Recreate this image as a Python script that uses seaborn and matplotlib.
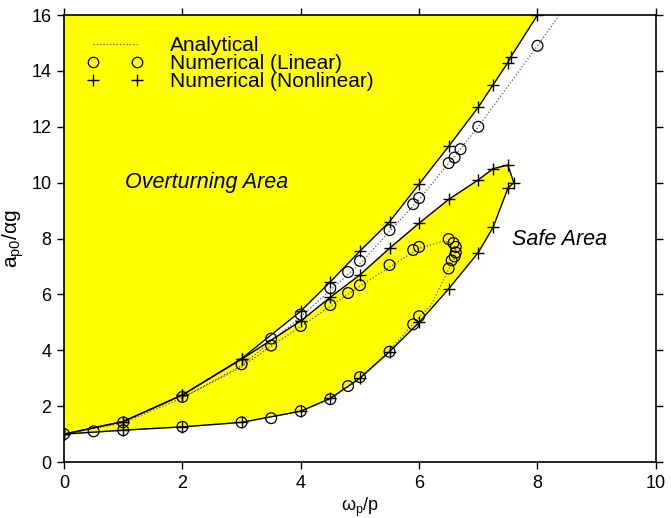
import numpy as np
import pandas as pd
import matplotlib
matplotlib.use('Agg')
import matplotlib.pyplot as plt
import seaborn as sns

# Curva superior (numérico não linear)
nl_up_x = [0, 1, 2, 3, 4, 4.5, 5, 5.5, 6, 6.5, 7, 7.25, 7.5, 7.55, 8]
nl_up_y = [1.0, 1.45, 2.4, 3.7, 5.4, 6.45, 7.55, 8.6, 9.95, 11.3, 12.7, 13.5, 14.3, 14.5, 16.0]

# Laço (numérico não linear): ramo do meio e ramo inferior
nl_loop_x = [0, 1, 2, 3, 4, 4.5, 5, 5.5, 6, 6.5, 7, 7.25, 7.5, 7.6, 7.5, 7.25, 7, 6.5, 6,
             5.5, 5, 4.5, 4, 3, 2, 1, 0]
nl_loop_y = [1.0, 1.45, 2.4, 3.68, 5.05, 5.9, 6.7, 7.65, 8.55, 9.4, 10.1, 10.5, 10.63, 10.0, 9.8,
             8.4, 7.5, 6.2, 5.0, 3.95, 3.0, 2.28, 1.82, 1.42, 1.26, 1.14, 1.0]

# Numérico linear (círculos)
lin_x = [0, 0.5, 1, 2, 3, 3.5, 4, 4.5, 4.8, 5, 5.5, 5.9, 6,
         6.5, 6.55, 6.6, 6.62, 6.62, 6.58, 6.5,
         6, 5.9, 5.5, 5, 4.8, 4.5, 4, 3.5,
         1, 2, 3, 3.5, 4, 4.5, 4.8, 5, 5.5, 5.9, 6, 6.5, 6.6, 6.7, 7, 8]
lin_y = [1.0, 1.1, 1.14, 1.26, 1.42, 1.57, 1.82, 2.25, 2.72, 3.04, 3.95, 4.93, 5.22,
         6.93, 7.22, 7.36, 7.5, 7.7, 7.84, 7.98,
         7.7, 7.59, 7.05, 6.33, 6.05, 5.62, 4.87, 4.17,
         1.42, 2.33, 3.5, 4.42, 5.28, 6.22, 6.8, 7.2, 8.3, 9.23, 9.45, 10.7, 10.9, 11.2, 12.0, 14.9]

# Analítico (linha pontilhada)
an_up_x = [0, 1, 2, 3, 4, 5, 6, 7, 8, 8.37]
an_up_y = [1.0, 1.4, 2.3, 3.45, 5.2, 7.1, 9.4, 12.0, 14.9, 16.0]
an_lo_x = [2, 3, 3.5, 4, 5, 6, 6.4, 6.55, 6.62, 6.6, 6.5, 6.2, 6, 5.5, 5, 4.5, 4, 3, 2, 1, 0]
an_lo_y = [2.3, 3.4, 4.15, 4.85, 6.3, 7.65, 7.9, 7.85, 7.6, 7.3, 6.9, 5.6, 5.2, 4.0, 3.0,
           2.25, 1.82, 1.42, 1.26, 1.14, 1.0]

sns.set_theme(style='ticks')
plt.rcParams['font.family'] = ['Liberation Sans', 'DejaVu Sans']
plt.rcParams['mathtext.fontset'] = 'custom'
plt.rcParams['mathtext.rm'] = 'Liberation Sans'
plt.rcParams['mathtext.it'] = 'Liberation Sans'
plt.rcParams['text.color'] = 'black'
plt.rcParams['axes.labelcolor'] = 'black'
plt.rcParams['xtick.color'] = 'black'
plt.rcParams['ytick.color'] = 'black'

fig = plt.figure(figsize=(6.71, 5.18), dpi=100)
ax = fig.add_axes([0.0954, 0.108, 0.882, 0.863])

yellow = '#ffff00'
# Área de tombamento (à esquerda da curva superior)
ax.fill(nl_up_x + [0], nl_up_y + [16], color=yellow, lw=0, zorder=1)
ax.fill(nl_loop_x, nl_loop_y, color=yellow, lw=0, zorder=1)

df_up = pd.DataFrame({'x': nl_up_x, 'y': nl_up_y})
df_loop = pd.DataFrame({'x': nl_loop_x, 'y': nl_loop_y})
for d in [df_up, df_loop]:
    sns.lineplot(data=d, x='x', y='y', sort=False, estimator=None, ax=ax, color='black',
                 lw=1.0, marker='+', markersize=8, mew=1.0, markeredgecolor='black', zorder=4)

ax.plot(an_up_x, an_up_y, ls=':', color='0.35', lw=0.9, zorder=2)
ax.plot(an_lo_x, an_lo_y, ls=':', color='0.35', lw=0.9, zorder=2)

sns.scatterplot(x=lin_x, y=lin_y, ax=ax, marker='o', s=60, facecolor='none',
                edgecolor='black', linewidth=0.9, zorder=3)

# Legenda
h_an, = ax.plot([], [], ls=':', color='0.35', lw=0.9)
h_lin, = ax.plot([], [], ls='none', marker='o', mfc='none', mec='black', ms=7.5, mew=0.9)
h_nl, = ax.plot([], [], ls='none', marker='+', color='black', ms=8, mew=1.0)
ax.legend([h_an, h_lin, h_nl], ['Analytical', 'Numerical (Linear)', 'Numerical (Nonlinear)'],
          loc='upper left', bbox_to_anchor=(0.013, 0.985), frameon=False, fontsize=15,
          numpoints=2, handlelength=2.75, handletextpad=1.27, labelspacing=-0.05,
          borderaxespad=0.3)

ax.text(1.03, 10.0, 'Overturning Area', fontsize=15.5, style='italic', va='center', ha='left')
ax.text(7.57, 7.95, 'Safe Area', fontsize=15.5, style='italic', va='center', ha='left')

ax.set_xlim(0, 10)
ax.set_ylim(0, 16)
ax.set_xticks(range(0, 11, 2))
ax.set_yticks(range(0, 17, 2))
ax.tick_params(direction='out', length=5, width=1, labelsize=13, color='black',
               labelcolor='black', top=True, right=True, pad=4)
for s in ax.spines.values():
    s.set_visible(True)
    s.set_color('black')
    s.set_linewidth(1.2)
ax.set_xlabel(r'$\omega_p$/p', fontsize=13, labelpad=3)
ax.set_ylabel(r'a$_{p0}$/$\alpha$g', fontsize=15, labelpad=4)

fig.savefig('out.png', dpi=100)
